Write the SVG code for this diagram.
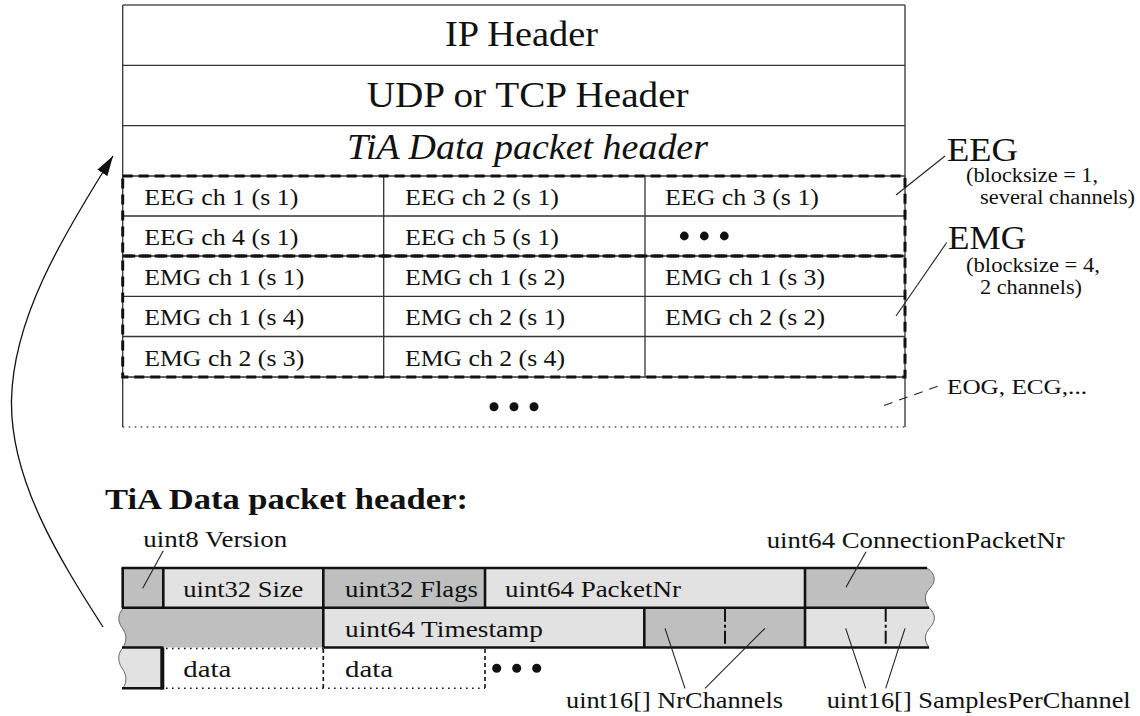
<svg xmlns="http://www.w3.org/2000/svg" width="1140" height="716" viewBox="0 0 1140 716">
<defs>
<style>
text{font-family:"Liberation Serif","DejaVu Serif",serif;fill:#111;}
.h{font-size:36px;}
.c{font-size:24px;}
.s{font-size:20.5px;}
.big{font-size:34px;}
.thin{stroke:#333;stroke-width:1.3;fill:none;}
.dash{stroke:#111;stroke-width:3;fill:none;stroke-dasharray:10 6;}
.dot{stroke:#555;stroke-width:1.6;fill:none;stroke-dasharray:1.6 4.4;}
.bd{stroke:#111;stroke-width:2.6;fill:none;}
.dk{fill:#bfbfbf;}
.lt{fill:#e2e2e2;}
.ptr{stroke:#222;stroke-width:1.1;fill:none;}
.dd{stroke:#111;stroke-width:2;fill:none;stroke-dasharray:13 3 3 3;}
.vd{stroke:#111;stroke-width:1.6;fill:none;stroke-dasharray:4 3;}
.wave{stroke:#666;stroke-width:1;}
</style>
<marker id="ah" markerUnits="userSpaceOnUse" markerWidth="22" markerHeight="12" refX="20" refY="6" orient="auto">
<path d="M0,0 L20,6 L0,12 z" fill="#111"/>
</marker>
</defs>
<rect width="1140" height="716" fill="#fff"/>

<g id="packet">
<line class="thin" x1="122.7" y1="5" x2="905" y2="5" style="stroke:#555;stroke-width:1.6"/>
<line class="thin" x1="122.7" y1="5" x2="122.7" y2="427"/>
<line class="thin" x1="905" y1="5" x2="905" y2="427"/>
<line class="thin" x1="122.7" y1="65.3" x2="905" y2="65.3"/>
<line class="thin" x1="122.7" y1="125.7" x2="905" y2="125.7"/>
<line class="thin" x1="122.7" y1="176" x2="905" y2="176"/>
<line class="thin" x1="122.7" y1="216" x2="905" y2="216"/>
<line class="thin" x1="122.7" y1="256" x2="905" y2="256"/>
<line class="thin" x1="122.7" y1="296.3" x2="905" y2="296.3"/>
<line class="thin" x1="122.7" y1="336.5" x2="905" y2="336.5"/>
<line class="thin" x1="122.7" y1="377" x2="905" y2="377"/>
<line class="thin" x1="383.7" y1="176" x2="383.7" y2="377"/>
<line class="thin" x1="645" y1="176" x2="645" y2="377"/>
<line class="dot" x1="122.7" y1="427" x2="905" y2="427"/>
<text class="h" x="445" y="46" textLength="153" lengthAdjust="spacingAndGlyphs">IP Header</text>
<text class="h" x="366.7" y="106.7" textLength="322" lengthAdjust="spacingAndGlyphs">UDP or TCP Header</text>
<text class="h" x="347" y="159" textLength="361" lengthAdjust="spacingAndGlyphs" font-style="italic">TiA Data packet header</text>
</g>

<g id="eeg-group">
<rect class="dash" x="122.7" y="176" width="782.3" height="80"/>
<text class="c" x="144.3" y="204.5" textLength="154" lengthAdjust="spacingAndGlyphs">EEG ch 1 (s 1)</text>
<text class="c" x="405" y="204.5" textLength="154" lengthAdjust="spacingAndGlyphs">EEG ch 2 (s 1)</text>
<text class="c" x="665" y="204.5" textLength="154" lengthAdjust="spacingAndGlyphs">EEG ch 3 (s 1)</text>
<text class="c" x="144.3" y="244.7" textLength="154" lengthAdjust="spacingAndGlyphs">EEG ch 4 (s 1)</text>
<text class="c" x="405" y="244.7" textLength="154" lengthAdjust="spacingAndGlyphs">EEG ch 5 (s 1)</text>
<circle cx="684.3" cy="236" r="4.4" fill="#111"/>
<circle cx="704.3" cy="236" r="4.4" fill="#111"/>
<circle cx="724.3" cy="236" r="4.4" fill="#111"/>
</g>

<g id="emg-group">
<rect class="dash" x="122.7" y="256" width="782.3" height="121"/>
<text class="c" x="144.3" y="284.8" textLength="160" lengthAdjust="spacingAndGlyphs">EMG ch 1 (s 1)</text>
<text class="c" x="405" y="284.8" textLength="160" lengthAdjust="spacingAndGlyphs">EMG ch 1 (s 2)</text>
<text class="c" x="665" y="284.8" textLength="160" lengthAdjust="spacingAndGlyphs">EMG ch 1 (s 3)</text>
<text class="c" x="144.3" y="325" textLength="160" lengthAdjust="spacingAndGlyphs">EMG ch 1 (s 4)</text>
<text class="c" x="405" y="325" textLength="160" lengthAdjust="spacingAndGlyphs">EMG ch 2 (s 1)</text>
<text class="c" x="665" y="325" textLength="160" lengthAdjust="spacingAndGlyphs">EMG ch 2 (s 2)</text>
<text class="c" x="144.3" y="365.5" textLength="160" lengthAdjust="spacingAndGlyphs">EMG ch 2 (s 3)</text>
<text class="c" x="405" y="365.5" textLength="160" lengthAdjust="spacingAndGlyphs">EMG ch 2 (s 4)</text>
</g>

<g id="more-signals">
<circle cx="494" cy="406.7" r="4.5" fill="#111"/>
<circle cx="514" cy="406.7" r="4.5" fill="#111"/>
<circle cx="534" cy="406.7" r="4.5" fill="#111"/>
</g>

<g id="labels-right">
<text class="big" x="947" y="160.7" textLength="71" lengthAdjust="spacingAndGlyphs">EEG</text>
<text class="s" x="966" y="182.3" textLength="132" lengthAdjust="spacingAndGlyphs">(blocksize = 1,</text>
<text class="s" x="980" y="204.3" textLength="155" lengthAdjust="spacingAndGlyphs">several channels)</text>
<text class="big" x="948" y="249" textLength="78" lengthAdjust="spacingAndGlyphs">EMG</text>
<text class="s" x="966" y="271.7" textLength="134" lengthAdjust="spacingAndGlyphs">(blocksize = 4,</text>
<text class="s" x="980" y="294.3" textLength="102" lengthAdjust="spacingAndGlyphs">2 channels)</text>
<text class="s" x="947" y="393.5" textLength="140" lengthAdjust="spacingAndGlyphs">EOG, ECG,...</text>
</g>

<g id="header-title">
<text x="105" y="509" font-size="29" font-weight="bold" textLength="363" lengthAdjust="spacingAndGlyphs">TiA Data packet header:</text>
</g>

<g id="header-fields">
<rect class="dk" x="122.7" y="568" width="40.6" height="39.7"/>
<rect class="lt" x="163.3" y="568" width="160" height="39.7"/>
<rect class="dk" x="323.3" y="568" width="161.7" height="39.7"/>
<rect class="lt" x="485" y="568" width="320" height="39.7"/>
<path class="dk" d="M805,568 L927,568 C936,574 936,582 930,588 C924,594 924,602 929,607.7 L805,607.7 Z"/>
<path class="dk" d="M124,607.7 L323.3,607.7 L323.3,647.5 L123,647.5 C127,641 127,634 122,627.6 C117,621 118,613 124,607.7 Z"/>
<rect class="lt" x="323.3" y="607.7" width="321" height="39.8"/>
<rect class="dk" x="644.3" y="607.7" width="160.7" height="39.8"/>
<path class="lt" d="M805,607.7 L929,607.7 C936,614 936,621 930,627.6 C924,634 924,641 929,647.5 L805,647.5 Z"/>
<path class="lt" d="M123,647.5 L163.3,647.5 L163.3,688.3 L123,688.3 C127,682 127,675 122,668 C117,661 118,653 123,647.5 Z"/>
<path class="wave" fill="none" d="M927,568 C936,574 936,582 930,588 C924,594 924,602 929,607.7 C936,614 936,621 930,627.6 C924,634 924,641 929,647.5"/>
<path class="wave" fill="none" d="M124,607.7 C118,613 117,621 122,627.6 C127,634 127,641 123,647.5 C118,653 117,661 122,668 C127,675 127,682 123,688.3"/>
<line class="bd" x1="121.5" y1="568" x2="927" y2="568"/>
<line class="bd" x1="122" y1="607.7" x2="929" y2="607.7"/>
<line class="bd" x1="122" y1="647.5" x2="163.3" y2="647.5"/>
<line class="bd" x1="323.3" y1="647.5" x2="929" y2="647.5"/>
<line class="bd" x1="122" y1="688.3" x2="163.3" y2="688.3"/>
<line class="bd" x1="122.7" y1="568" x2="122.7" y2="607.7"/>
<line class="bd" x1="163.3" y1="568" x2="163.3" y2="607.7"/>
<line class="bd" x1="323.3" y1="568" x2="323.3" y2="647.5"/>
<line class="bd" x1="485" y1="568" x2="485" y2="607.7"/>
<line class="bd" x1="805" y1="568" x2="805" y2="647.5"/>
<line class="bd" x1="644.3" y1="607.7" x2="644.3" y2="647.5"/>
<line class="bd" x1="162.3" y1="647.5" x2="162.3" y2="689.5" style="stroke-width:4"/>
<line class="dd" x1="725" y1="608.8" x2="725" y2="646.5"/>
<line class="dd" x1="885.7" y1="608.8" x2="885.7" y2="646.5"/>
<line class="dot" x1="166" y1="648.5" x2="323.3" y2="648.5" style="stroke:#111"/>
<line class="dot" x1="166" y1="688.3" x2="485" y2="688.3" style="stroke:#111"/>
<line class="vd" x1="323.3" y1="649" x2="323.3" y2="688.3"/>
<line class="vd" x1="485" y1="649" x2="485" y2="688.3"/>
<text class="c" x="183.3" y="597.3" textLength="120" lengthAdjust="spacingAndGlyphs">uint32 Size</text>
<text class="c" x="345" y="597.3" textLength="133" lengthAdjust="spacingAndGlyphs">uint32 Flags</text>
<text class="c" x="505" y="597.3" textLength="176" lengthAdjust="spacingAndGlyphs">uint64 PacketNr</text>
<text class="c" x="345" y="637.3" textLength="198" lengthAdjust="spacingAndGlyphs">uint64 Timestamp</text>
<text class="c" x="183.3" y="676.7" textLength="48" lengthAdjust="spacingAndGlyphs">data</text>
<text class="c" x="345" y="676.7" textLength="48" lengthAdjust="spacingAndGlyphs">data</text>
<circle cx="496.7" cy="668.3" r="4.5" fill="#111"/>
<circle cx="516.7" cy="668.3" r="4.5" fill="#111"/>
<circle cx="536.7" cy="668.3" r="4.5" fill="#111"/>
</g>

<g id="field-labels">
<text class="c" x="143.3" y="546.7" textLength="144" lengthAdjust="spacingAndGlyphs">uint8 Version</text>
<text class="c" x="766.7" y="548.3" textLength="298" lengthAdjust="spacingAndGlyphs">uint64 ConnectionPacketNr</text>
<text class="c" x="566" y="708.3" textLength="217" lengthAdjust="spacingAndGlyphs">uint16[] NrChannels</text>
<text class="c" x="826.7" y="708.3" textLength="304" lengthAdjust="spacingAndGlyphs">uint16[] SamplesPerChannel</text>
</g>

<g id="connectors">
<path class="ptr" d="M103,627 C60,560 10,480 11.5,400 C13,320 60,240 113,156" marker-end="url(#ah)" style="stroke:#111;stroke-width:1.3"/>
<line class="ptr" x1="896" y1="195" x2="945" y2="156"/>
<line class="ptr" x1="896" y1="316" x2="946.7" y2="242.5"/>
<line class="ptr" x1="884" y1="405.5" x2="944" y2="384" stroke-dasharray="9 7"/>
<line class="ptr" x1="163.3" y1="550.7" x2="142.7" y2="588.3"/>
<line class="ptr" x1="866" y1="551.7" x2="846" y2="587.3"/>
<line class="ptr" x1="685" y1="688.3" x2="665" y2="628.3"/>
<line class="ptr" x1="705" y1="688.3" x2="765" y2="628.3"/>
<line class="ptr" x1="865.7" y1="688.3" x2="845.7" y2="628.3"/>
<line class="ptr" x1="885.7" y1="688.3" x2="905" y2="628.3"/>
</g>
</svg>
